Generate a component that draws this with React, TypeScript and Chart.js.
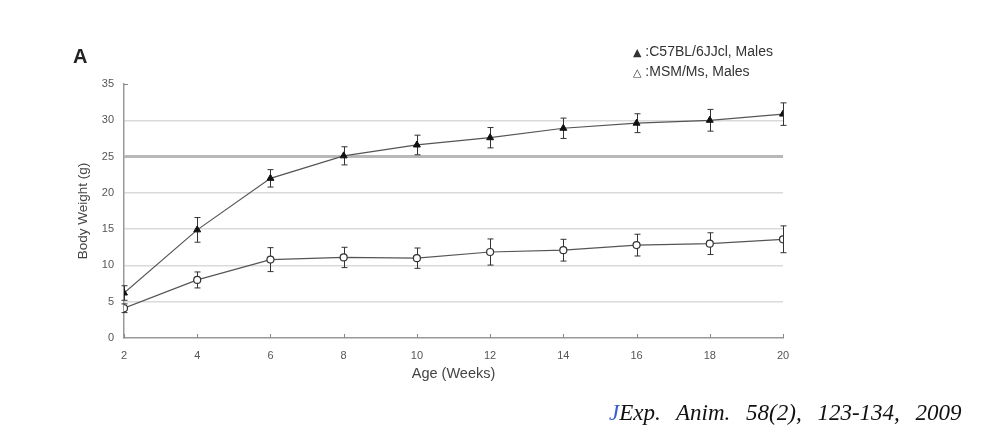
import React, { useEffect, useRef } from "react";
import { Chart, registerables } from "chart.js";

Chart.register(...registerables);

const ages = [2, 4, 6, 8, 10, 12, 14, 16, 18, 20];
const c57Mean = [6.2, 14.9, 22.0, 25.1, 26.6, 27.6, 28.9, 29.6, 30.0, 30.85];
const c57Err = [1.0, 1.7, 1.2, 1.25, 1.35, 1.4, 1.4, 1.3, 1.5, 1.55];
const msmMean = [4.1, 8.0, 10.8, 11.1, 11.0, 11.85, 12.1, 12.8, 13.0, 13.6];
const msmErr = [0.6, 1.1, 1.65, 1.4, 1.4, 1.8, 1.5, 1.5, 1.5, 1.85];
const yTicks = [0, 5, 10, 15, 20, 25, 30, 35];
const legendLabels = ["C57BL/6JJcl, Males", "MSM/Ms, Males"];

const errors = [c57Err, msmErr];

const errorBarPlugin = {
  id: "errorBars",
  beforeDatasetsDraw(chart: any) {
    const { ctx, scales } = chart;
    const xs = scales.x;
    const ys = scales.y;
    ctx.save();
    ctx.strokeStyle = "#333";
    ctx.lineWidth = 1;
    chart.data.datasets.forEach((ds: any, di: number) => {
      ds.data.forEach((p: any, i: number) => {
        const e = errors[di][i];
        const x = Math.round(xs.getPixelForValue(p.x)) + 0.5;
        const yt = ys.getPixelForValue(p.y + e);
        const yb = ys.getPixelForValue(p.y - e);
        ctx.beginPath();
        ctx.moveTo(x, yt);
        ctx.lineTo(x, yb);
        ctx.moveTo(x - 3, yt);
        ctx.lineTo(x + 3, yt);
        ctx.moveTo(x - 3, yb);
        ctx.lineTo(x + 3, yb);
        ctx.stroke();
      });
    });
    ctx.restore();
  },
  afterDraw(chart: any) {
    const { ctx, scales } = chart;
    const xs = scales.x;
    const ys = scales.y;
    ctx.save();
    ctx.strokeStyle = "#888";
    ctx.lineWidth = 1;
    const y0 = ys.getPixelForValue(0);
    ages.forEach((a) => {
      const x = Math.round(xs.getPixelForValue(a)) + 0.5;
      ctx.beginPath();
      ctx.moveTo(x, y0);
      ctx.lineTo(x, y0 - 4);
      ctx.stroke();
    });
    const yTop = ys.getPixelForValue(35);
    const xl = xs.left;
    ctx.beginPath();
    ctx.moveTo(xl, yTop + 0.5);
    ctx.lineTo(xl + 4, yTop + 0.5);
    ctx.stroke();
    ctx.restore();
  },
};

export default function App() {
  const ref = useRef<HTMLCanvasElement>(null);
  useEffect(() => {
    document.body.style.margin = "0";
    const chart = new Chart(ref.current!, {
      type: "line",
      data: {
        datasets: [
          {
            label: legendLabels[0],
            data: ages.map((a, i) => ({ x: a, y: c57Mean[i] })),
            borderColor: "#555",
            borderWidth: 1.2,
            pointStyle: "triangle",
            pointRadius: 4,
            pointBackgroundColor: "#111",
            pointBorderColor: "#111",
            pointBorderWidth: 1,
          },
          {
            label: legendLabels[1],
            data: ages.map((a, i) => ({ x: a, y: msmMean[i] })),
            borderColor: "#555",
            borderWidth: 1.2,
            pointStyle: "circle",
            pointRadius: 3.5,
            pointBackgroundColor: "#fff",
            pointBorderColor: "#333",
            pointBorderWidth: 1.2,
          },
        ],
      },
      plugins: [errorBarPlugin],
      options: {
        animation: false,
        responsive: false,
        layout: { padding: { left: 60, right: 212, top: 84, bottom: 39 } },
        plugins: { legend: { display: false }, tooltip: { enabled: false } },
        scales: {
          x: {
            type: "linear",
            min: 2,
            max: 20,
            afterBuildTicks: (s: any) => {
              s.ticks = ages.map((v) => ({ value: v }));
            },
            afterFit: (s: any) => {
              s.height = 60;
            },
            ticks: {
              color: "#555",
              font: { family: "'Liberation Sans', Arial", size: 11 },
              padding: 11,
            },
            grid: { display: false, drawTicks: false },
            border: { display: true, color: "#999", width: 1.5 },
            title: {
              display: true,
              text: "Age (Weeks)",
              color: "#444",
              font: { family: "'Liberation Sans', Arial", size: 14.5 },
              padding: { top: 0, bottom: 15 },
            },
          },
          y: {
            min: 0,
            max: 35,
            afterBuildTicks: (s: any) => {
              s.ticks = yTicks.map((v) => ({ value: v }));
            },
            afterFit: (s: any) => {
              s.width = 64;
            },
            ticks: {
              color: "#555",
              font: { family: "'Liberation Sans', Arial", size: 11 },
              padding: 10,
            },
            grid: {
              drawTicks: false,
              color: (c: any) => {
                const v = c.tick && c.tick.value;
                if (v === 25) return "#b8b8b8";
                if (v === 0 || v === 35) return "rgba(0,0,0,0)";
                return "#dadada";
              },
              lineWidth: (c: any) => {
                const v = c.tick && c.tick.value;
                return v === 25 ? 3 : 1.5;
              },
            },
            border: { display: true, color: "#999", width: 1.5 },
            title: {
              display: true,
              text: "Body Weight (g)",
              color: "#444",
              font: { family: "'Liberation Sans', Arial", size: 13.5 },
              padding: { top: 15, bottom: 0 },
            },
          },
        },
      },
    });
    return () => chart.destroy();
  }, []);

  return (
    <div style={{ position: "relative", width: 995, height: 437, background: "#fff" }}>
      <canvas ref={ref} width={995} height={437} style={{ display: "block" }} />
      <div
        style={{
          position: "absolute",
          left: 73,
          top: 45,
          fontFamily: "'Liberation Sans', Arial, sans-serif",
          fontWeight: "bold",
          fontSize: 20,
          color: "#222",
        }}
      >
        A
      </div>
      <div
        style={{
          position: "absolute",
          left: 633,
          top: 42,
          fontFamily: "'Liberation Sans', Arial, sans-serif",
          fontSize: 14,
          color: "#333",
          lineHeight: "18px",
          whiteSpace: "nowrap",
        }}
      >
        <div>
          <span style={{ fontFamily: "'DejaVu Sans'", fontSize: 11 }}>▲</span> :{legendLabels[0]}
        </div>
        <div>
          <span style={{ fontFamily: "'DejaVu Sans'", fontSize: 11 }}>△</span> :{legendLabels[1]}
        </div>
      </div>
      <div
        style={{
          position: "absolute",
          left: 609,
          top: 400,
          fontFamily: "'Liberation Serif', 'DejaVu Serif', serif",
          fontStyle: "italic",
          fontSize: 23,
          color: "#111",
          whiteSpace: "nowrap",
          wordSpacing: 10,
        }}
      >
        <span style={{ color: "#3a5fcd" }}>J</span>Exp. Anim. 58(2), 123-134, 2009
      </div>
    </div>
  );
}
